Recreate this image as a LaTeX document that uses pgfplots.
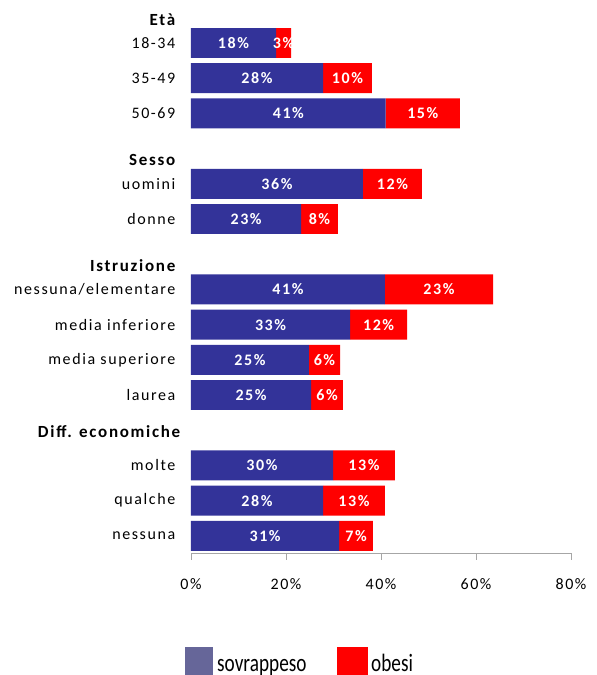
\documentclass[border=0pt]{standalone}
\usepackage{fontspec}
\setmainfont{Carlito}
\newfontfamily\lblfont[LetterSpace=10]{Carlito}
\usepackage{graphicx}
\usepackage{pgfplots}
\usepackage{pgfplotstable}
\pgfplotsset{compat=1.18}
\definecolor{sovra}{HTML}{333399}
\definecolor{sovraleg}{HTML}{666699}
\definecolor{obesi}{HTML}{FF0000}
\definecolor{axgray}{HTML}{A6A6A6}

% pos: riga dal basso; b = sovrappeso, r = obesi (lunghezze lette), bl/rl = etichette
\pgfplotstableread{
pos b    r    bl rl
14  17.9 3.2  18 3
13  27.8 10.3 28 10
12  41.0 15.6 41 15
10  36.2 12.4 36 12
9   23.2 7.7  23 8
7   40.8 22.8 41 23
6   33.5 12.0 33 12
5   24.8 6.6  25 6
4   25.3 6.7  25 6
2   29.9 13.0 30 13
1   27.8 13.0 28 13
0   31.2 7.1  31 7
}\dati

\newcommand\legtext[1]{\scalebox{0.77}[1]{\fontsize{25bp}{28bp}\selectfont #1}}

\begin{document}
\begin{tikzpicture}
\useasboundingbox (-191bp,-122.3bp) rectangle (406bp,552.7bp);
\begin{axis}[
  at={(0,0)}, anchor=south west,
  xbar stacked,
  x=4.75bp, y=35.2bp,
  xmin=0, xmax=80, ymin=-0.48, ymax=15,
  bar width=0.85,
  axis lines*=left,
  y axis line style={draw=none},
  x axis line style={axgray},
  tick align=outside,
  major tick length=7bp,
  xtick={0,20,40,60,80},
  xticklabel={\pgfmathprintnumber{\tick}\%},
  /pgf/number format/assume math mode=true,
  x tick style={axgray},
  y tick style={draw=none},
  x tick label style={font=\lblfont\fontsize{16bp}{19bp}\selectfont, yshift=-15bp},
  y tick label style={font=\lblfont\fontsize{16bp}{19bp}\selectfont, anchor=east, inner sep=0pt, xshift=-8.5bp},
  ytick={0,1,2,4,5,6,7,9,10,12,13,14},
  yticklabels={nessuna, qualche, molte, laurea, media superiore, media inferiore,
    nessuna/elementare, donne, uomini, 50-69, 35-49, 18-34},
  extra y ticks={2.95,7.69,10.68,14.65},
  extra y tick labels={Diff. economiche\kern-5bp, Istruzione, Sesso, Età},
  extra y tick style={y tick label style={font=\lblfont\bfseries\fontsize{17bp}{20bp}\selectfont}},
  nodes near coords={\pgfmathprintnumber[fixed,precision=0]{\pgfplotspointmeta}\%},
  point meta=explicit,
  every node near coord/.append style={font=\lblfont\bfseries\fontsize{16bp}{19bp}\selectfont,
    text=white, anchor=center, inner sep=0pt},
]
\addplot[fill=sovra, draw=none] table[x=b, y=pos, meta=bl]{\dati};
\addplot[fill=obesi, draw=none] table[x=r, y=pos, meta=rl]{\dati};
\end{axis}
% legenda
\fill[sovraleg] (-6bp,-94.3bp) rectangle (22bp,-126bp);
\node[anchor=base west, inner sep=0pt] at (26bp,-119bp) {\legtext{sovrappeso}};
\fill[obesi] (146bp,-94.3bp) rectangle (177bp,-126bp);
\node[anchor=base west, inner sep=0pt] at (180bp,-119bp) {\legtext{obesi}};
\end{tikzpicture}
\end{document}
